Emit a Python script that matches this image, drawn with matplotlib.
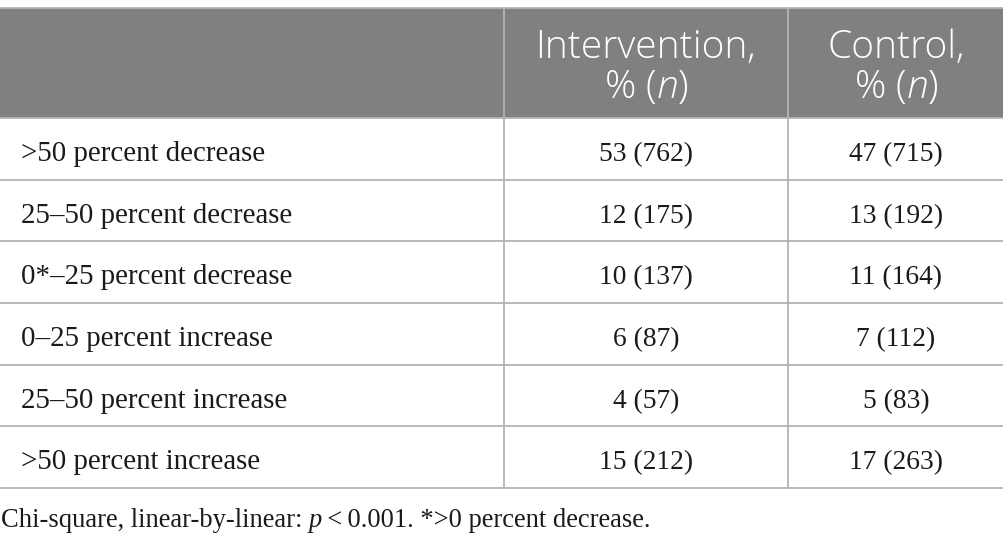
import matplotlib
matplotlib.use("Agg")
import matplotlib.pyplot as plt

categories = [">50 percent decrease", "25\u201350 percent decrease", "0*\u201325 percent decrease",
              "0\u201325 percent increase", "25\u201350 percent increase", ">50 percent increase"]
intervention = ["53 (762)", "12 (175)", "10 (137)", "6 (87)", "4 (57)", "15 (212)"]
control = ["47 (715)", "13 (192)", "11 (164)", "7 (112)", "5 (83)", "17 (263)"]
headers = [("Intervention,", "% ($n$)"), ("Control,", "% ($n$)")]

plt.rcParams['mathtext.fontset'] = 'custom'
plt.rcParams['mathtext.rm'] = 'Open Sans:light'
plt.rcParams['mathtext.it'] = 'Open Sans:italic:light'

W, H = 1004, 546
fig = plt.figure(figsize=(W / 100, H / 100), dpi=100)
ax = fig.add_axes([0, 0, 1, 1])
ax.set_xlim(0, W)
ax.set_ylim(H, 0)
ax.axis('off')

line_c = '#b3b3b3'
head_c = '#808080'
txt_c = '#1a1a1a'
top, head_bot = 8, 118
row_h = (488 - 118) / 6
col_x = [0, 504, 788, W]
centers = [646, 896]

# header background
ax.add_patch(plt.Rectangle((0, top), W, head_bot - top, color=head_c, lw=0, zorder=0))

# grid lines
ys = [top, head_bot] + [head_bot + row_h * (i + 1) for i in range(6)]
for y in ys:
    ax.plot([0, W], [y, y], color=line_c, lw=1.3, solid_capstyle='butt', zorder=2)
for x in col_x[1:3]:
    ax.plot([x, x], [top, ys[-1]], color=line_c, lw=1.3, solid_capstyle='butt', zorder=2)

# header text
for (l1, l2), cx in zip(headers, centers):
    ax.text(cx, 58, l1, ha='center', va='baseline', color='white', fontsize=28,
            family='Open Sans', fontweight='light', zorder=3)
    ax.text(cx, 98, l2, ha='center', va='baseline', color='white', fontsize=28,
            family='Open Sans', fontweight='light', zorder=3)

# body
for i, (c, a, b) in enumerate(zip(categories, intervention, control)):
    yb = head_bot + row_h * i + 43
    ax.text(21, yb, c, ha='left', va='baseline', fontsize=20.8, family='Liberation Serif', color=txt_c)
    ax.text(centers[0], yb, a, ha='center', va='baseline', fontsize=19.8, family='Liberation Serif', color=txt_c)
    ax.text(centers[1], yb, b, ha='center', va='baseline', fontsize=19.8, family='Liberation Serif', color=txt_c)

# footnote
fs = 19.1
t1 = ax.text(1, 527, "Chi-square, linear-by-linear: ", ha='left', va='baseline', fontsize=fs,
             family='Liberation Serif', color=txt_c)
t2 = ax.annotate("p", xy=(1, 0), xycoords=t1, ha='left', va='bottom', fontsize=fs,
                 family='Liberation Serif', style='italic', color=txt_c)
t3 = ax.annotate("\u2009<\u20090.001. *>0 percent decrease.", xy=(1, 0), xycoords=t2, ha='left', va='bottom',
                 fontsize=fs, family='Liberation Serif', color=txt_c)

fig.savefig("out.png", dpi=100)
